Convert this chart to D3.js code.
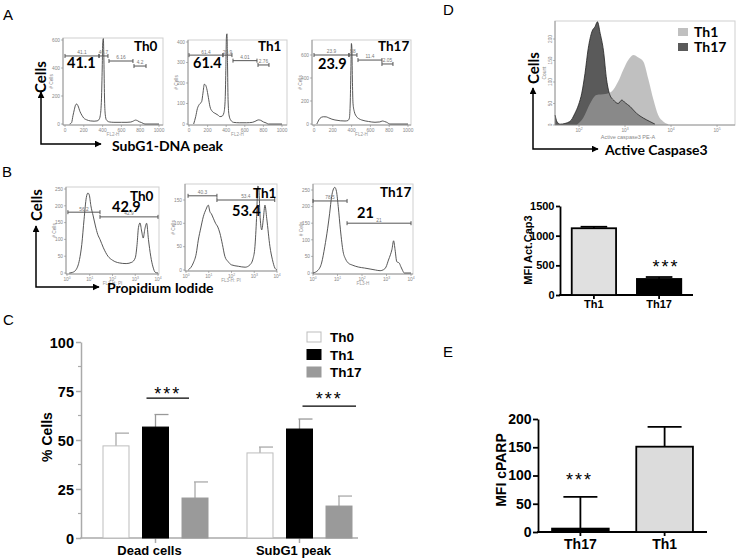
<!DOCTYPE html>
<html><head><meta charset="utf-8">
<script src="https://cdn.jsdelivr.net/npm/d3@7"></script>
<style>body{margin:0;background:#fff}svg{display:block}</style>
</head><body>
<svg id="c" width="736" height="559"></svg>
<script>
// ================= DATA =================
// Panel A: SubG1 DNA histograms (FL2-H, linear), x = FL2-H, y = # cells
const subG1Th0X = [50,70,85,100,112,124,138,160,180,200,230,270,310,340,360,375,388,396,402,408,414,420,428,440,470,520,600,660,700,730,750,770,790,815,850,1000];
const subG1Th0Y = [0,10,60,105,135,143,130,88,62,42,30,22,20,22,30,60,180,400,590,610,450,200,70,30,15,12,12,12,14,22,28,24,16,10,0,0];
const subG1Th1X = [50,72,90,110,136,150,165,178,190,208,226,250,280,310,333,355,375,388,396,402,408,414,420,430,450,480,540,620,680,720,745,770,800,830,853,1000];
const subG1Th1Y = [0,36,75,95,109,150,194,190,174,130,84,62,52,44,36,38,54,110,260,420,440,300,120,44,18,8,6,6,8,15,20,18,10,5,0,0];
const subG1Th17X = [30,39,64,99,130,152,190,223,280,330,360,376,386,393,398,403,408,415,429,454,480,507,580,649,700,727,750,773,809,1000];
const subG1Th17Y = [0,15,50,63,62,55,42,35,28,26,30,50,200,500,700,660,400,180,107,63,45,35,22,15,18,26,22,15,0,0];
// gates: [start, end, height, label]
const subG1GatesTh0 = [[0,362,486,"41.1"],[362,457,486,"46.7"],[468,723,450,"6.16"],[734,862,414,"4.2"]];
const subG1GatesTh1 = [[0,365,336,"61.4"],[365,462,336,"29.9"],[473,731,309,"4.01"],[742,860,288,"2.76"]];
const subG1GatesTh17 = [[0,372,600,"23.9"],[372,457,600,"58"],[468,723,556,"11.4"],[723,840,522,"2.05"]];
const subG1Ticks = [0,200,400,600,800,1000];

// Panel B: Propidium iodide histograms, x = log10(FL3-H), y = # cells
const piTh0LogX = [0.1,0.25,0.4,0.55,0.65,0.75,0.85,0.92,0.98,1.05,1.15,1.25,1.35,1.45,1.6,1.8,2.0,2.3,2.6,2.85,3.0,3.08,3.14,3.21,3.28,3.35,3.42,3.5,3.58,3.68,3.78,3.88,4.0];
const piTh0Y    = [0,2,10,40,85,160,225,238,232,200,170,140,115,100,75,50,38,30,28,32,45,85,135,149,125,104,130,148,100,50,18,2,0];
const piTh1LogX = [0.1,0.32,0.45,0.54,0.65,0.76,0.88,0.98,1.05,1.12,1.2,1.3,1.4,1.49,1.6,1.71,1.85,2.0,2.3,2.6,2.81,2.95,3.03,3.1,3.16,3.2,3.25,3.33,3.4,3.47,3.55,3.69,3.8,3.91,4.0];
const piTh1Y    = [0,15,35,64,90,114,130,139,125,120,111,100,92,79,55,29,18,11,8,6,11,25,50,110,180,175,120,86,110,139,110,50,22,4,0];
const piTh17LogX = [0.0,0.2,0.35,0.48,0.6,0.68,0.76,0.82,0.89,0.96,1.03,1.12,1.23,1.33,1.44,1.6,1.85,2.1,2.33,2.55,2.74,2.88,2.98,3.08,3.16,3.22,3.29,3.35,3.42,3.47,3.52,3.58,3.63,3.73,4.0];
const piTh17Y    = [0,8,30,79,135,180,230,250,258,245,200,130,64,42,30,24,18,15,12,9,7,10,18,39,55,70,97,70,34,32,30,20,12,0,0];
const piGatesTh0 = [[0.04,1.45,181,"56.2"],[1.45,4.0,167,"42.9"]];
const piGatesTh1 = [[0.09,1.36,159,"40.3"],[1.36,3.9,150,"53.4"]];
const piGatesTh17 = [[0.0,1.39,217,"78.5"],[1.39,4.0,150,"21"]];
const logDecades = [0,1,2,3,4];

// Panel C: % cells
const cCategories = ["Dead cells","SubG1 peak"];
const cSeries = ["Th0","Th1","Th17"];
const cMeanTh0 = [47.0, 43.4], cSemTh0 = [6.5, 3.0];
const cMeanTh1 = [56.6, 55.6], cSemTh1 = [6.4, 5.1];
const cMeanTh17 = [20.4, 16.3], cSemTh17 = [8.2, 5.1];
const cTicks = [0,25,50,75,100];

// Panel D: active caspase-3 histogram, x = log10(PE-A), y = count
const casTh17LogX = [1.48,1.52,1.59,1.80,1.91,1.99,2.06,2.13,2.20,2.28,2.35,2.40,2.46,2.53,2.60,2.67,2.75,2.85,2.93,3.00,3.11,3.25,3.40,3.54,3.65];
const casTh17Y    = [23,8,2,8,27,47,74,120,178,217,229,240,213,174,105,70,58,50,58,52,43,27,16,8,2];
const casTh1LogX = [1.95,2.09,2.24,2.38,2.57,2.71,2.85,2.96,3.07,3.18,3.29,3.40,3.51,3.62,3.72,3.83,3.94];
const casTh1Y    = [0,16,50,70,72,78,101,128,151,163,157,147,105,58,23,8,2];
const casLogTicks = [2,3,4,5];
const casCountTicks = [0,50,100,150,200];
// Panel D bars: MFI active caspase 3
const mfiCasGroups = ["Th1","Th17"];
const mfiCasMean = [1125, 270], mfiCasSem = [25, 33];
const mfiCasTicks = [0,500,1000,1500];
// Panel E bars: MFI cPARP
const parpGroups = ["Th17","Th1"];
const parpMean = [6, 151], parpSem = [56, 35];
const parpTicks = [0,50,100,150,200];

// ================= DRAW =================
const svg = d3.select("#c");
svg.append("rect").attr("width",736).attr("height",559).attr("fill","#fff");
const LATO = "Lato, 'Open Sans', sans-serif";
const ARIAL = "'Liberation Sans', Arial, sans-serif";

function txt(g, x, y, s, o = {}) {
  const t = g.append("text").attr("x", x).attr("y", y).text(s)
    .attr("font-family", o.ff || LATO).attr("font-size", o.fs || 14)
    .attr("font-weight", o.fw || "bold").attr("fill", o.fill || "#000")
    .attr("text-anchor", o.anchor || "start");
  if (o.rot) t.attr("transform", `rotate(${o.rot},${x},${y})`);
  if (o.ls) t.attr("letter-spacing", o.ls);
  return t;
}

const defs = svg.append("defs");
defs.append("marker").attr("id","arr").attr("viewBox","0 0 10 10").attr("refX",9).attr("refY",5)
  .attr("markerUnits","userSpaceOnUse").attr("markerWidth",7).attr("markerHeight",7)
  .attr("orient","auto-start-reverse")
  .append("path").attr("d","M0,0L10,5L0,10z").attr("fill","#000");

function axisArrows(x, yTop, yCorner, xEnd, yLab, xLab, xText, xTextY, yLabX) {
  svg.append("path").attr("d", `M${x},${yTop}V${yCorner}H${xEnd}`).attr("fill","none")
    .attr("stroke","#000").attr("stroke-width",1.5)
    .attr("marker-start","url(#arr)").attr("marker-end","url(#arr)");
  txt(svg, yLabX, yLab, "Cells", {fs:15, anchor:"middle", rot:-90});
  txt(svg, xText, xTextY, xLab, {fs:14});
}

// panel letters
[["A",3,20],["B",2,177],["C",3,325],["D",443,15],["E",443,357]].forEach(([l,x,y]) =>
  txt(svg, x, y, l, {fs:15, fw:"normal", ff:ARIAL}));

function flowPanel(o) {
  const g = svg.append("g");
  const x = d3.scaleLinear().domain(o.xd).range(o.xr);
  const y = d3.scaleLinear().domain(o.yd).range(o.yr);
  const [fx0, fy0, fx1, fy1] = o.frame;
  g.append("rect").attr("x",fx0).attr("y",fy0).attr("width",fx1-fx0).attr("height",fy1-fy0)
    .attr("fill","none").attr("stroke","#cfcfcf").attr("stroke-width",1);
  g.append("path").attr("d",`M${fx0},${fy0}V${fy1}H${fx1}`).attr("fill","none").attr("stroke","#888").attr("stroke-width",0.8);
  o.yt.forEach(v => {
    g.append("line").attr("x1",fx0-2).attr("x2",fx0).attr("y1",y(v)).attr("y2",y(v)).attr("stroke","#888").attr("stroke-width",0.6);
    g.append("text").attr("x",fx0-3).attr("y",y(v)+1.7).attr("text-anchor","end").attr("font-size",4.8)
      .attr("fill","#888").attr("font-family",ARIAL).text(v);
  });
  o.xt.forEach(v => {
    g.append("line").attr("x1",x(v)).attr("x2",x(v)).attr("y1",fy1).attr("y2",fy1+2).attr("stroke","#888").attr("stroke-width",0.6);
    const t = g.append("text").attr("x",x(v)).attr("y",fy1+6.5).attr("text-anchor","middle").attr("font-size",4.8)
      .attr("fill","#888").attr("font-family",ARIAL);
    if (o.log) { t.text("10"); t.append("tspan").attr("dy",-2).attr("font-size",3.4).text(v); }
    else t.text(v);
  });
  g.append("text").attr("x",(fx0+fx1)/2).attr("y",fy1+10.5).attr("text-anchor","middle").attr("font-size",4.6)
    .attr("fill","#999").attr("font-family",ARIAL).text(o.xLabel);
  g.append("text").attr("transform",`translate(${fx0-10},${(fy0+fy1)/2}) rotate(-90)`).attr("text-anchor","middle")
    .attr("font-size",4.8).attr("fill","#888").attr("font-family",ARIAL).text("# Cells");
  const pts = o.xs.map((v,i)=>[v,o.ys[i]]);
  g.append("path").datum(pts).attr("d", d3.line().x(d=>x(d[0])).y(d=>y(d[1])).curve(d3.curveMonotoneX))
    .attr("fill","none").attr("stroke","#444").attr("stroke-width",0.9);
  o.gates.forEach(([a,b,h,lab]) => {
    const gy = y(h), xa = x(a), xb = x(b);
    g.append("path").attr("d",`M${xa},${gy-2}V${gy+2}M${xa},${gy}H${xb}M${xb},${gy-2}V${gy+2}`)
      .attr("stroke","#555").attr("stroke-width",1).attr("fill","none");
    g.append("text").attr("x",(xa+xb)/2).attr("y",gy-1.6).attr("text-anchor","middle").attr("font-size",4.8)
      .attr("fill","#777").attr("font-family",ARIAL).text(lab);
  });
  txt(g, o.title[0], o.title[1], o.title[2], {fs:13.5});
  txt(g, o.big[0], o.big[1], o.big[2], {fs:14.5});
}

// ---- Panel A ----
flowPanel({frame:[63,38,163,125], xd:[0,1000], xr:[65,159], yd:[0,600], yr:[124,40], yt:[0,200,400,600], xt:subG1Ticks,
  xs:subG1Th0X, ys:subG1Th0Y, gates:subG1GatesTh0, xLabel:"FL2-H", title:[134,51,"Th0"], big:[67,68,"41.1"]});
flowPanel({frame:[188,40,287,125], xd:[0,1000], xr:[189,282], yd:[0,400], yr:[124,42], yt:[0,100,200,300,400], xt:subG1Ticks,
  xs:subG1Th1X, ys:subG1Th1Y, gates:subG1GatesTh1, xLabel:"FL2-H", title:[258,51,"Th1"], big:[193,68,"61.4"]});
flowPanel({frame:[312,40,411,125], xd:[0,1000], xr:[314,408], yd:[0,600], yr:[124,55], yt:[0,200,400,600], xt:subG1Ticks,
  xs:subG1Th17X, ys:subG1Th17Y, gates:subG1GatesTh17, xLabel:"FL2-H", title:[378,51,"Th17"], big:[318,69,"23.9"]});
axisArrows(41, 92, 144, 101, 77, "SubG1-DNA peak", 112, 151, 46);

// ---- Panel B ----
flowPanel({frame:[66,187,159,274], xd:[0,4], xr:[67,158], yd:[0,250], yr:[273,189], yt:[0,50,100,150,200,250], xt:logDecades, log:true,
  xs:piTh0LogX, ys:piTh0Y, gates:piGatesTh0, xLabel:"FL3-H: PI", title:[130,201,"Th0"], big:[112,212,"42.9"]});
flowPanel({frame:[185,184,277,271], xd:[0,4], xr:[186,277], yd:[0,150], yr:[270,200], yt:[0,50,100,150], xt:logDecades, log:true,
  xs:piTh1LogX, ys:piTh1Y, gates:piGatesTh1, xLabel:"FL3-H: PI", title:[253,198,"Th1"], big:[232,216,"53.4"]});
flowPanel({frame:[313,184,413,274], xd:[0,4], xr:[313,411], yd:[0,250], yr:[273,190], yt:[0,50,100,150,200,250], xt:logDecades, log:true,
  xs:piTh17LogX, ys:piTh17Y, gates:piGatesTh17, xLabel:"FL3-H", title:[380,197,"Th17"], big:[357,218,"21"]});
axisArrows(36, 226, 287, 99, 205, "Propidium  Iodide", 107, 293, 42);

// ---- Panel C ----
(function(){
  const g = svg.append("g");
  const y = d3.scaleLinear().domain([0,100]).range([538,342]);
  const x0 = d3.scaleBand().domain(cCategories).range([84,372]);
  const x1 = d3.scaleBand().domain(cSeries).range([19,124]).paddingInner(0.342);
  const means = {Th0:cMeanTh0, Th1:cMeanTh1, Th17:cMeanTh17};
  const sems = {Th0:cSemTh0, Th1:cSemTh1, Th17:cSemTh17};
  const fill = {Th0:"#fff", Th1:"#000", Th17:"#9a9a9a"};
  const stroke = {Th0:"#bdbdbd", Th1:"#000", Th17:"#9a9a9a"};
  const errC = {Th0:"#aaa", Th1:"#999", Th17:"#aaa"};
  const ya = d3.axisLeft(y).tickValues(cTicks).tickSize(5).tickPadding(2).tickSizeOuter(0).tickFormat(d3.format("d"));
  const ag = g.append("g").attr("transform","translate(81,0)").call(ya);
  ag.select(".domain").attr("stroke","#aaa").attr("stroke-width",1.5);
  ag.selectAll(".tick line").attr("stroke","#aaa").attr("stroke-width",1.5);
  ag.selectAll(".tick text").attr("font-family",ARIAL).attr("font-weight","bold").attr("font-size",14.5).attr("fill","#000").attr("dy","0.36em");
  [12.5,37.5,62.5,87.5].forEach(v => g.append("line").attr("x1",78).attr("x2",81).attr("y1",y(v)).attr("y2",y(v)).attr("stroke","#aaa").attr("stroke-width",1.2));
  g.append("line").attr("x1",80.25).attr("x2",358).attr("y1",538).attr("y2",538).attr("stroke","#aaa").attr("stroke-width",1.5);
  cCategories.forEach((c,i) => {
    const cx = x0(c) + 71.5;
    g.append("line").attr("x1",cx).attr("x2",cx).attr("y1",538).attr("y2",543).attr("stroke","#aaa").attr("stroke-width",1.5);
    txt(g, cx-6, 555, c, {ff:ARIAL, fs:13, anchor:"middle"});
    cSeries.forEach(s => {
      const bx = x0(c) + x1(s), bw = x1.bandwidth(), m = means[s][i], e = m + sems[s][i];
      const cxb = bx + bw/2;
      g.append("line").attr("x1",cxb).attr("x2",cxb).attr("y1",y(m)).attr("y2",y(e)).attr("stroke",errC[s]).attr("stroke-width",1.3);
      g.append("line").attr("x1",cxb-1).attr("x2",cxb+bw/2).attr("y1",y(e)).attr("y2",y(e)).attr("stroke",errC[s]).attr("stroke-width",1.3);
      g.append("rect").attr("x",bx).attr("y",y(m)).attr("width",bw).attr("height",538-y(m))
        .attr("fill",fill[s]).attr("stroke",stroke[s]).attr("stroke-width",1);
    });
  });
  const sig = [[cCategories[0], 4, 7, 71.4, 400],[cCategories[1], 16, 30, 67.3, 405]];
  sig.forEach(([c,a,b,v,ty]) => {
    const xa = x0(c)+x1("Th1")+a, xb = x0(c)+x1("Th17")+b;
    g.append("line").attr("x1",xa).attr("x2",xb).attr("y1",y(v)).attr("y2",y(v)).attr("stroke","#000").attr("stroke-width",1.2);
    txt(g, (xa+xb)/2, ty, "***", {ff:ARIAL, fw:"normal", fs:18, anchor:"middle", ls:2});
  });
  txt(g, 52, 437, "% Cells", {ff:ARIAL, fs:14, anchor:"middle", rot:-90});
  cSeries.forEach((s,i) => {
    g.append("rect").attr("x",307).attr("y",332+i*17.5).attr("width",14).attr("height",10)
      .attr("fill",fill[s]).attr("stroke",stroke[s]).attr("stroke-width",1);
    txt(g, 330, 342+i*17.5, s, {ff:ARIAL, fs:13.5});
  });
})();

// ---- Panel D histogram ----
(function(){
  const g = svg.append("g");
  const x = d3.scaleLinear().domain([1.478,5.39]).range([555,735]);
  const y = d3.scaleLinear().domain([0,240]).range([125,21.8]);
  g.append("rect").attr("x",555).attr("y",21).attr("width",180).attr("height",104).attr("fill","none").attr("stroke","#cfcfcf");
  const area = d3.area().x(d=>x(d[0])).y0(y(0)).y1(d=>y(d[1])).curve(d3.curveMonotoneX);
  const line = d3.line().x(d=>x(d[0])).y(d=>y(d[1])).curve(d3.curveMonotoneX);
  const p17 = casTh17LogX.map((v,i)=>[v,casTh17Y[i]]);
  const p1 = casTh1LogX.map((v,i)=>[v,casTh1Y[i]]);
  g.append("path").datum(p17).attr("d",area).attr("fill","#5a5a5a");
  g.append("path").datum(p1).attr("d",area).attr("fill","#a1a1a1").attr("fill-opacity",0.67);
  g.append("path").datum(p17).attr("d",line).attr("fill","none").attr("stroke","#222").attr("stroke-width",0.8);
  g.append("path").attr("d","M555,21V125H735").attr("fill","none").attr("stroke","#888").attr("stroke-width",0.8);
  casCountTicks.forEach(v => {
    g.append("line").attr("x1",553).attr("x2",555).attr("y1",y(v)).attr("y2",y(v)).attr("stroke","#888").attr("stroke-width",0.6);
    g.append("text").attr("transform",`translate(${551.5},${y(v)}) rotate(-90)`).attr("text-anchor","middle")
      .attr("font-size",4.8).attr("fill","#888").attr("font-family",ARIAL).text(v);
  });
  casLogTicks.forEach(v => {
    g.append("line").attr("x1",x(v)).attr("x2",x(v)).attr("y1",125).attr("y2",127).attr("stroke","#888").attr("stroke-width",0.6);
    const t = g.append("text").attr("x",x(v)).attr("y",131.5).attr("text-anchor","middle").attr("font-size",4.8)
      .attr("fill","#888").attr("font-family",ARIAL).text("10");
    t.append("tspan").attr("dy",-2).attr("font-size",3.4).text(v);
  });
  g.append("text").attr("x",628).attr("y",139).attr("text-anchor","middle").attr("font-size",5.5)
    .attr("fill","#888").attr("font-family",ARIAL).text("Active caspase3 PE-A");
  g.append("text").attr("transform","translate(546,73) rotate(-90)").attr("text-anchor","middle")
    .attr("font-size",4.8).attr("fill","#888").attr("font-family",ARIAL).text("Count");
  [["Th1","#c0c0c0",28],["Th17","#5a5a5a",43]].forEach(([s,c,yy]) => {
    g.append("rect").attr("x",678).attr("y",yy).attr("width",10).attr("height",8).attr("fill",c);
    txt(g, 694, yy+8.5, s, {fs:14});
  });
})();
axisArrows(533, 88, 149, 598, 68, "Active Caspase3", 605, 155, 539);

// ---- bar charts for D (MFI) and E ----
function barChart(o) {
  const g = svg.append("g");
  const y = d3.scaleLinear().domain(o.yd).range(o.yr);
  const x = d3.scaleBand().domain(o.groups).range(o.xr).paddingInner(o.pi).paddingOuter(o.po);
  const ya = d3.axisLeft(y).tickValues(o.ticks).tickSize(o.ts).tickPadding(1.5).tickSizeOuter(0).tickFormat(d3.format("d"));
  const ag = g.append("g").attr("transform",`translate(${o.xr[0]},0)`).call(ya);
  ag.select(".domain").attr("stroke","#000").attr("stroke-width",1.8);
  ag.selectAll(".tick line").attr("stroke","#000").attr("stroke-width",1.8);
  ag.selectAll(".tick text").attr("font-family",ARIAL).attr("font-weight","bold").attr("font-size",o.fs).attr("fill","#000");
  g.append("line").attr("x1",o.xr[0]-0.9).attr("x2",o.xr[1]).attr("y1",o.yr[0]).attr("y2",o.yr[0]).attr("stroke","#000").attr("stroke-width",1.8);
  o.groups.forEach((gname,i) => {
    const bx = x(gname), bw = x.bandwidth(), cx = bx + bw/2, m = o.mean[i], e = m + o.sem[i];
    g.append("line").attr("x1",cx).attr("x2",cx).attr("y1",o.yr[0]).attr("y2",o.yr[0]+4).attr("stroke","#000").attr("stroke-width",1.8);
    g.append("line").attr("x1",cx).attr("x2",cx).attr("y1",y(m)).attr("y2",y(e)).attr("stroke","#000").attr("stroke-width",1.8);
    g.append("line").attr("x1",cx-bw*0.3).attr("x2",cx+bw*0.3).attr("y1",y(e)).attr("y2",y(e)).attr("stroke","#000").attr("stroke-width",1.8);
    g.append("rect").attr("x",bx).attr("y",y(m)).attr("width",bw).attr("height",o.yr[0]-y(m))
      .attr("fill",o.fills[i]).attr("stroke","#000").attr("stroke-width",1.8);
    txt(g, cx, o.labY, gname, {ff:ARIAL, fs:o.fs, anchor:"middle"});
  });
  txt(g, x(o.starOn)+x.bandwidth()/2 + o.starDx, o.starY, "***", {ff:ARIAL, fw:"normal", fs:18, anchor:"middle", ls:2});
  txt(g, o.ylab[0], o.ylab[1], o.ylab[2], {ff:ARIAL, fs:o.lfs, anchor:"middle", rot:-90});
}
barChart({groups:mfiCasGroups, mean:mfiCasMean, sem:mfiCasSem, ticks:mfiCasTicks, yd:[0,1500], yr:[295,206],
  xr:[560,693], pi:0.32, po:0.18, ts:4, fs:11, fills:["#e0e0e0","#000"], labY:308, starOn:"Th17", starDx:7, starY:273,
  ylab:[532,250,"MFI Act.Cap3"], lfs:11});
barChart({groups:parpGroups, mean:parpMean, sem:parpSem, ticks:parpTicks, yd:[0,200], yr:[532,419],
  xr:[538,707], pi:0.327, po:0.167, ts:5, fs:14, fills:["#000","#dcdcdc"], labY:549, starOn:"Th17", starDx:-1, starY:486,
  ylab:[506,470,"MFI cPARP"], lfs:14});
</script>
</body></html>
